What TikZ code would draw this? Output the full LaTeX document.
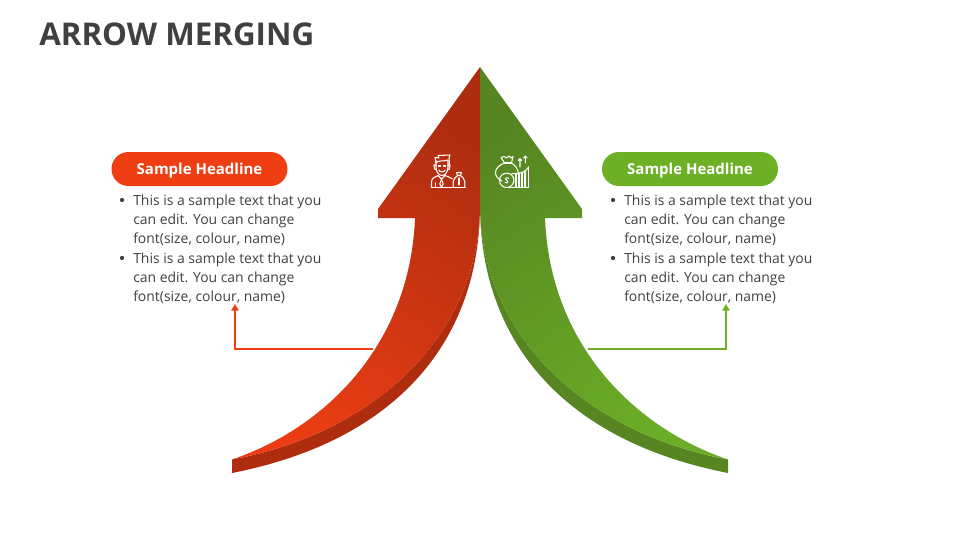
\documentclass[tikz,border=0pt]{standalone}
\usepackage{fontspec}
\setmainfont{Open Sans}
\usetikzlibrary{arrows.meta}
\definecolor{pillred}{HTML}{EF3E14}
\definecolor{redmain}{HTML}{EA3D14}
\definecolor{redmid}{HTML}{CA3510}
\definecolor{reddark}{HTML}{AE2D0F}
\definecolor{pillgreen}{HTML}{6DB025}
\definecolor{greenmain}{HTML}{6BAD26}
\definecolor{greenmid}{HTML}{5F9723}
\definecolor{greendark}{HTML}{568522}
\definecolor{ink}{HTML}{404040}
\tikzset{
  pill/.style={rounded corners=12.7pt,minimum width=132pt,minimum height=25.5pt,inner sep=0pt,text=white,text height=10pt,text depth=1.9pt,font=\fontsize{11.25pt}{14pt}\selectfont\bfseries},
  bodytext/.style={anchor=north west,inner sep=0pt,text=ink,align=left,font=\fontsize{10.45pt}{14.4pt}\selectfont},
  dotmark/.style={circle,fill=ink,inner sep=0pt,minimum size=3.2pt},
  link/.style={line width=1.4pt,-{Triangle[width=5.5pt,length=5pt]}},
  icon/.style={draw=white,line width=0.8pt,line join=round,line cap=round,fill=none}
}
\begin{document}
\begin{tikzpicture}[x=0.75pt,y=-0.75pt]
\useasboundingbox (0,0) rectangle (960,540);
\node[anchor=west,inner sep=0pt,text=ink,font=\fontsize{23.5pt}{28pt}\selectfont\bfseries] (title) at (39,34.5) {ARROW MERGING};
% red arrow
\fill[reddark] (232,459.5) .. controls (380,432) and (480,330) .. (480,205) .. controls (480,338) and (400,440) .. (232,473) -- cycle;
\shade[top color=reddark,middle color=redmid,bottom color=redmain,shading angle=-35]
 (480,67) -- (480,205) .. controls (480,330) and (380,432) .. (232,459.5)
 .. controls (325,428) and (410,345) .. (415,218) -- (378,218) -- (378,209) -- cycle;
% green arrow
\fill[greendark] (728,459.5) .. controls (580,432) and (480,330) .. (480,205) .. controls (480,338) and (560,440) .. (728,473) -- cycle;
\shade[top color=greendark,middle color=greenmid,bottom color=greenmain,shading angle=35]
 (480,67) -- (480,205) .. controls (480,330) and (580,432) .. (728,459.5)
 .. controls (635,428) and (550,345) .. (545,218) -- (582,218) -- (582,209) -- cycle;
% man icon
\begin{scope}[icon]
\draw (431.5,187.3) -- (431.5,182) .. controls (431.5,178) and (435,177) .. (438,175.5) -- (441.5,179) -- (445,175.5) .. controls (448,177) and (451,177.5) .. (452.5,179);
\draw (431.5,187.3) -- (465.5,187.3);
\draw (441.5,179) -- (439.8,184) -- (441.5,187) -- (443.2,184) -- cycle;
\draw (435.5,187.3) -- (435.5,183);
\draw (436,160.5) -- (436,167) .. controls (436,172) and (439,175.5) .. (442,175.5) .. controls (445,175.5) and (448,172) .. (448,167) -- (448,160.5);
\draw (436,163) -- (435,157.5) -- (439,158) -- (438,155.5) -- (450,155) -- (449,158) -- (449.5,164);
\draw (436,163) .. controls (437,160) and (445,161.5) .. (448,160);
\draw (436,165) -- (434,165) -- (434.5,169) -- (436,169.5);
\draw (448,165) -- (450,165) -- (449.5,169) -- (448,169.5);
\draw (438.5,166) -- (440.5,166) (443.5,166) -- (445.5,166);
\draw (438.8,170) .. controls (440,172.5) and (444,172.5) .. (445.2,170);
\draw (456.5,172.5) -- (461.5,172.5) -- (460.5,175.5) -- (457.5,175.5) -- cycle;
\draw (457.5,175.5) .. controls (452,179) and (453,185) .. (453.5,187.3);
\draw (460.5,175.5) .. controls (466,179) and (465,185) .. (464.5,187.3);
\draw (459,178) -- (459,185);
\end{scope}
% money icon
\begin{scope}[icon]
\draw (502,181) .. controls (492,176) and (494,167) .. (504.5,163) -- (501,157.5) -- (504,156.5) -- (506.5,158) -- (509,156) -- (511,158) -- (513,156.5) -- (511.5,163) .. controls (515,165) and (518,169) .. (518.5,173.5);
\draw (504.5,163) -- (511.5,163);
\draw (506.7,180.3) circle[radius=7.2];
\draw (508.5,178.3) .. controls (506,176.8) and (504.5,178.8) .. (506.7,180.3) .. controls (509,181.8) and (507.2,183.8) .. (505,182.3);
\draw (507,187.5) -- (528.7,187.5) -- (528.7,167);
\draw (512,173.5) .. controls (520,174) and (526,172) .. (528.7,167);
\draw (516,174) -- (516,187.5) (519,173.5) -- (519,187.5) (522,172.5) -- (522,187.5) (525,171) -- (525,187.5);
\draw (520,167) -- (520,158.5) (518.3,160.5) -- (520,158.5) -- (521.7,160.5);
\draw (525.3,163) -- (525.3,156) (523.6,158) -- (525.3,156) -- (527,158);
\end{scope}
% pills
\node[pill,fill=pillred] (h1) at (199.5,169) {Sample Headline};
\node[pill,fill=pillgreen] (h2) at (690,169) {Sample Headline};
% texts
\node[bodytext] (t1) at (133,194.5) {This is a sample text that you\\can edit. You can change\\font(size, colour, name)};
\node[bodytext] (t2) at (133,252.5) {This is a sample text that you\\can edit. You can change\\font(size, colour, name)};
\node[bodytext] (t3) at (624,194.5) {This is a sample text that you\\can edit. You can change\\font(size, colour, name)};
\node[bodytext] (t4) at (624,252.5) {This is a sample text that you\\can edit. You can change\\font(size, colour, name)};
\node[dotmark] (d1) at (122,200) {};
\node[dotmark] (d2) at (122,258) {};
\node[dotmark] (d3) at (613,200) {};
\node[dotmark] (d4) at (613,258) {};
% connectors
\coordinate (ra) at (373,349);
\coordinate (rb) at (235,349);
\coordinate (rc) at (235,304);
\coordinate (ga) at (588,349);
\coordinate (gb) at (726,349);
\coordinate (gc) at (726,304);
\draw[link,pillred] (ra) -- (rb) -- (rc);
\draw[link,pillgreen] (ga) -- (gb) -- (gc);
\end{tikzpicture}
\end{document}
